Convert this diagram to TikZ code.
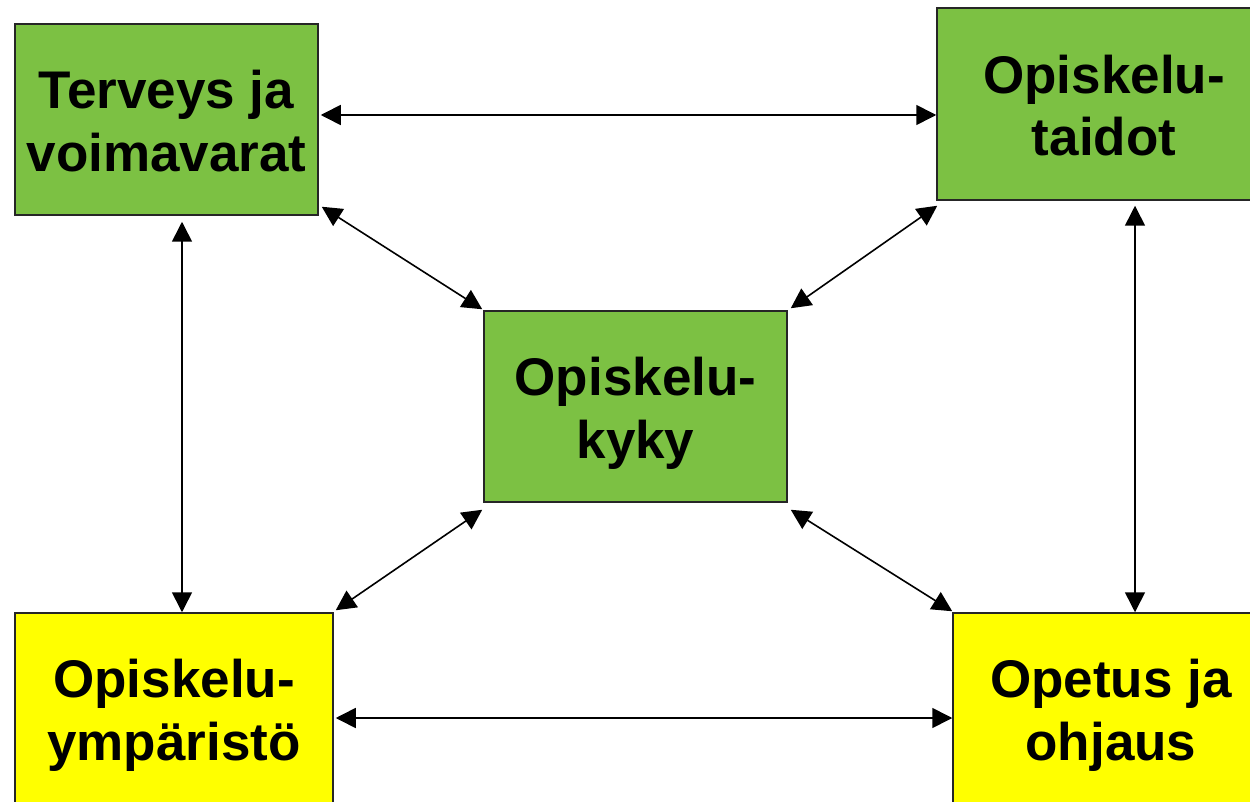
\documentclass[tikz,border=0pt]{standalone}
\usepackage{fontspec}
\setmainfont{Liberation Sans}
\usetikzlibrary{arrows.meta}
\definecolor{boxgreen}{HTML}{7CC143}
\definecolor{boxyellow}{HTML}{FFFF00}
\newcommand\Tst{\rule{0pt}{53pt}}
\newcommand\Bst{\rule[-12pt]{0pt}{12pt}}
\tikzset{
  box/.style={draw=black!85, line width=1.5pt, align=center, inner sep=0pt,
    font=\fontsize{53}{62.5}\selectfont\bfseries},
  gbox/.style={box, fill=boxgreen},
  ybox/.style={box, fill=boxyellow},
  arr/.style={line width=1.6pt, {Triangle[length=20pt,width=20pt]}-{Triangle[length=20pt,width=20pt]}}
}
\begin{document}
\begin{tikzpicture}[x=1pt,y=-1pt]
\useasboundingbox (0,0) rectangle (1250,802);
\begin{scope}
\clip (0,0) rectangle (1250,802);
\node[gbox, minimum width=303pt, minimum height=191pt] (tl) at (166.5,119.5) {\Tst Terveys ja\\voimavarat\Bst};
\node[gbox, minimum width=334pt, minimum height=192pt] (tr) at (1104,104) {\Tst Opiskelu-\\taidot\Bst};
\node[gbox, minimum width=303pt, minimum height=191pt] (c) at (635.5,406.5) {\Tst Opiskelu-\\kyky\Bst};
\node[ybox, minimum width=318pt, minimum height=191pt] (bl) at (174,708.5) {\Tst Opiskelu-\\ympäristö\Bst};
\node[ybox, minimum width=316pt, minimum height=191pt] (br) at (1111,708.5) {\Tst Opetus ja\\ohjaus\Bst};
\end{scope}
\coordinate (ytop) at (0,115);
\coordinate (ybot) at (0,718);
\coordinate (xl) at (182,0);
\coordinate (xr) at (1135,0);
\draw[arr] ([xshift=2pt]tl.east |- ytop) -- (tr.west |- ytop);
\draw[arr] ([xshift=2pt]bl.east |- ybot) -- (br.west |- ybot);
\draw[arr] ([yshift=-6pt]xl |- tl.south) -- (xl |- bl.north);
\draw[arr] ([yshift=-5pt]xr |- tr.south) -- (xr |- br.north);
\draw[arr] ([shift={(3,-9)}]tl.south east) -- ([shift={(-1,-1)}]c.north west);
\draw[arr] ([shift={(1,5)}]tr.south west) -- ([shift={(3,-2)}]c.north east);
\draw[arr] ([shift={(-1,7)}]c.south west) -- ([shift={(2,-2)}]bl.north east);
\draw[arr] ([shift={(3,7)}]c.south east) -- ([shift={(0,-1)}]br.north west);
\end{tikzpicture}
\end{document}
